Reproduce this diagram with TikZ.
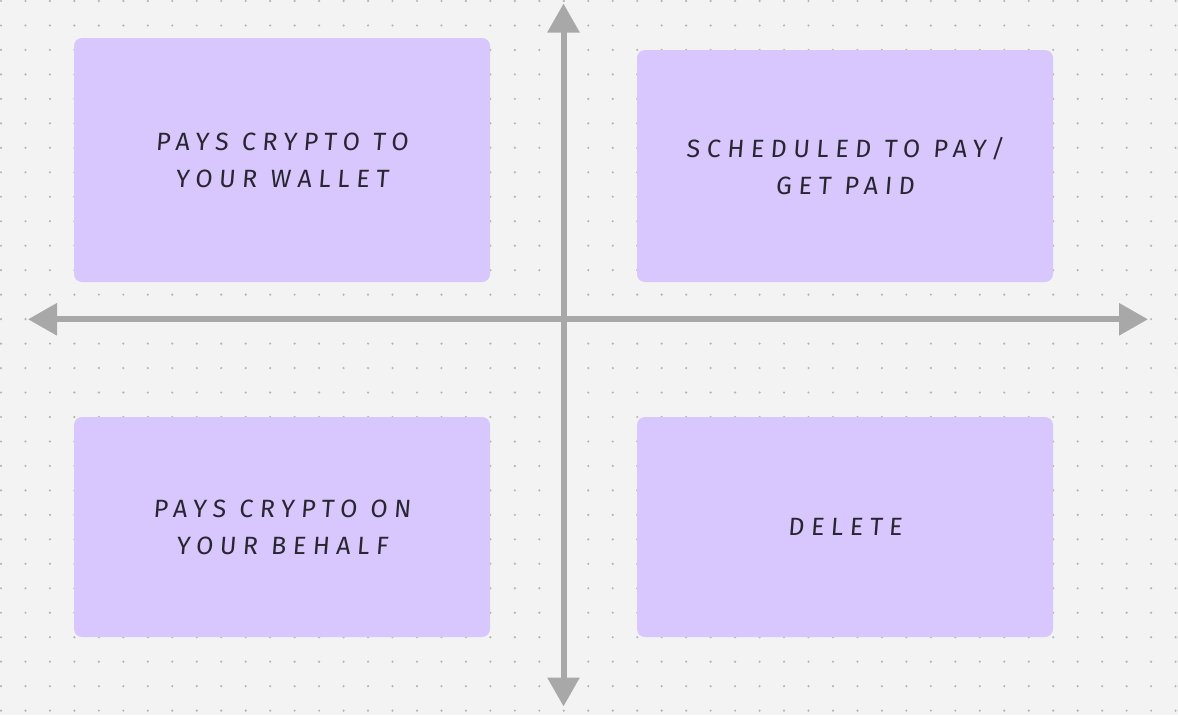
\documentclass[tikz,border=0pt]{standalone}
\usepackage{fontspec}
\newfontfamily\handfont[LetterSpace=26,FakeSlant=0.08]{Fira Sans}
\usetikzlibrary{arrows.meta}
\definecolor{bgc}{HTML}{F3F3F3}
\definecolor{dotc}{HTML}{B4B4B4}
\definecolor{axisc}{HTML}{A8A8A8}
\definecolor{boxc}{HTML}{D8C7FE}
\definecolor{txtc}{HTML}{2A2630}
\tikzset{
  quad/.style={fill=boxc, draw=none, rounded corners=8pt, minimum width=416pt, inner sep=0pt,
    align=center, text=txtc, font={\handfont\fontsize{25}{37}\selectfont}},
  axis/.style={draw=axisc, line width=6pt, {Triangle[width=31pt,length=29pt]}-{Triangle[width=31pt,length=29pt]}}
}
\begin{document}
\begin{tikzpicture}[x=1pt,y=-1pt]
\useasboundingbox (0,0) rectangle (1178,715);
\fill[bgc] (0,0) rectangle (1178,715);
\foreach \i in {0,...,48} {
  \foreach \j in {0,...,29} {
    \fill[dotc] ({1+24.47*\i},{1+24.47*\j}) circle (1.2pt);
  }
}
\node[quad, minimum height=244pt] (tl) at (282,160) {PAYS CRYPTO TO\\ YOUR WALLET};
\node[quad, minimum height=232pt] (tr) at (845,166) {SCHEDULED TO PAY/\\GET PAID};
\node[quad, minimum height=220pt] (bl) at (282,527) {PAYS CRYPTO ON\\ YOUR BEHALF};
\node[quad, minimum height=220pt] (br) at (845,527) {DELETE};
\coordinate (top) at (563.5,3.5);
\coordinate (bot) at (563.5,706.5);
\coordinate (lft) at (28,319.3);
\coordinate (rgt) at (1148,319.3);
\draw[axis] (bot) -- (top);
\draw[axis] (lft) -- (rgt);
\end{tikzpicture}
\end{document}
